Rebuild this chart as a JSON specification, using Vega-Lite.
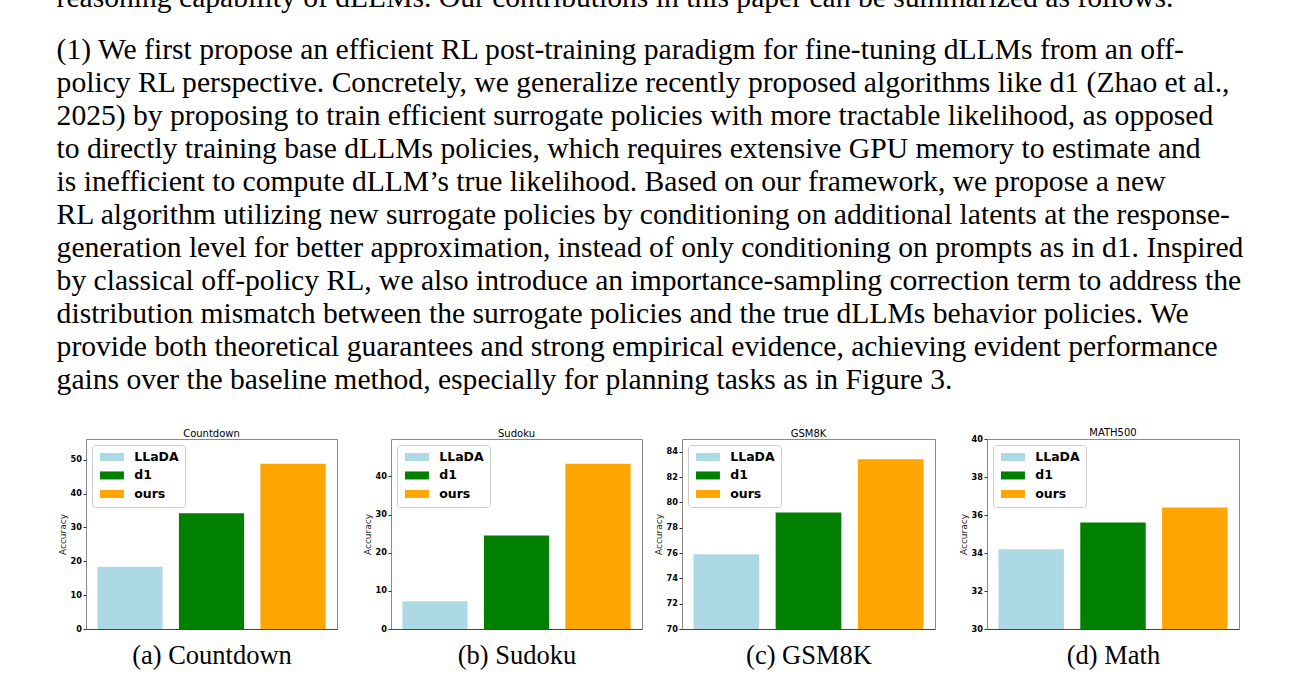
{
  "$schema": "https://vega.github.io/schema/vega-lite/v6.json",
  "background": "white",
  "padding": {"left": 56, "top": -17, "right": 5, "bottom": 5},
  "autosize": {"type": "pad"},
  "datasets": {
    "acc": [
      {"task": "Countdown", "method": "LLaDA", "acc": 18.4},
      {"task": "Countdown", "method": "d1", "acc": 34.2},
      {"task": "Countdown", "method": "ours", "acc": 48.8},
      {"task": "Sudoku", "method": "LLaDA", "acc": 7.3},
      {"task": "Sudoku", "method": "d1", "acc": 24.5},
      {"task": "Sudoku", "method": "ours", "acc": 43.3},
      {"task": "GSM8K", "method": "LLaDA", "acc": 75.9},
      {"task": "GSM8K", "method": "d1", "acc": 79.2},
      {"task": "GSM8K", "method": "ours", "acc": 83.4},
      {"task": "MATH500", "method": "LLaDA", "acc": 34.2},
      {"task": "MATH500", "method": "d1", "acc": 35.6},
      {"task": "MATH500", "method": "ours", "acc": 36.4}
    ]
  },
  "title": {
    "text": ["reasoning capability of dLLMs. Our contributions in this paper can be summarized as follows."],
    "subtitle": [
      "(1) We first propose an efficient RL post-training paradigm for fine-tuning dLLMs from an off-",
      "policy RL perspective. Concretely, we generalize recently proposed algorithms like d1 (Zhao et al.,",
      "2025) by proposing to train efficient surrogate policies with more tractable likelihood, as opposed",
      "to directly training base dLLMs policies, which requires extensive GPU memory to estimate and",
      "is inefficient to compute dLLM’s true likelihood.  Based on our framework, we propose a new",
      "RL algorithm utilizing new surrogate policies by conditioning on additional latents at the response-",
      "generation level for better approximation, instead of only conditioning on prompts as in d1. Inspired",
      "by classical off-policy RL, we also introduce an importance-sampling correction term to address the",
      "distribution mismatch between the surrogate policies and the true dLLMs behavior policies.  We",
      "provide both theoretical guarantees and strong empirical evidence, achieving evident performance",
      "gains over the baseline method, especially for planning tasks as in Figure 3."
    ],
    "anchor": "start",
    "frame": "bounds",
    "dx": -1,
    "offset": 32,
    "font": "Liberation Serif",
    "fontSize": 29.6,
    "fontWeight": "normal",
    "color": "black",
    "subtitleFont": "Liberation Serif",
    "subtitleFontSize": 29.6,
    "subtitleFontWeight": "normal",
    "subtitleColor": "black",
    "subtitleLineHeight": 33,
    "subtitlePadding": 22
  },
  "config": {
    "view": {"stroke": "#8a8a8a", "strokeWidth": 1},
    "axisY": {
      "grid": false,
      "domain": false,
      "tickSize": 3,
      "tickColor": "#333333",
      "labelFont": "DejaVu Sans",
      "labelFontWeight": "bold",
      "labelFontSize": 8.2,
      "labelColor": "black",
      "labelPadding": 1.5,
      "titleFont": "DejaVu Sans",
      "titleFontWeight": "normal",
      "titleFontSize": 9,
      "titleColor": "#222222",
      "titlePadding": 3
    },
    "axisX": {
      "labels": false,
      "ticks": false,
      "grid": false,
      "domain": true,
      "domainColor": "#444444",
      "titleFont": "Liberation Serif",
      "titleFontSize": 26.5,
      "titleFontWeight": "normal",
      "titleColor": "black",
      "titlePadding": 13
    },
    "legend": {
      "orient": "top-left",
      "offset": 5.5,
      "padding": 5.7,
      "strokeColor": "#cccccc",
      "fillColor": "white",
      "cornerRadius": 3,
      "symbolType": "M-1,-1H5V1H-1Z",
      "symbolSize": 64,
      "symbolStrokeWidth": 0,
      "labelFont": "DejaVu Sans",
      "labelFontWeight": "bold",
      "labelFontSize": 12.5,
      "labelColor": "black",
      "labelOffset": 24,
      "rowPadding": 5.5,
      "title": null
    }
  },
  "resolve": {"scale": {"color": "independent", "y": "independent", "x": "independent"}, "legend": {"color": "independent"}},
  "spacing": 10,
  "hconcat": [
    {
      "spacing": 24,
      "resolve": {"scale": {"color": "independent", "y": "independent", "x": "independent"}, "legend": {"color": "independent"}},
      "hconcat": [
        {
          "width": 251, "height": 190,
          "data": {"name": "acc"},
          "transform": [{"filter": "datum.task === 'Countdown'"}],
          "title": {"text": "Countdown", "font": "DejaVu Sans", "fontSize": 10, "fontWeight": "normal", "color": "black", "offset": 0},
          "mark": {"type": "bar", "clip": true},
          "encoding": {
            "x": {"field": "method", "type": "nominal", "sort": ["LLaDA", "d1", "ours"], "scale": {"paddingInner": 0.2, "paddingOuter": 0.14}, "axis": {"title": "(a) Countdown"}},
            "y": {"field": "acc", "type": "quantitative", "scale": {"domain": [0, 56.1], "nice": false, "zero": false}, "axis": {"title": "Accuracy", "values": [0, 10, 20, 30, 40, 50]}},
            "color": {"field": "method", "type": "nominal", "sort": ["LLaDA", "d1", "ours"], "scale": {"domain": ["LLaDA", "d1", "ours"], "range": ["#add8e6", "#008000", "#ffa500"]}}
          }
        },
        {
          "width": 251, "height": 190,
          "data": {"name": "acc"},
          "transform": [{"filter": "datum.task === 'Sudoku'"}],
          "title": {"text": "Sudoku", "font": "DejaVu Sans", "fontSize": 10, "fontWeight": "normal", "color": "black", "offset": 0},
          "mark": {"type": "bar", "clip": true},
          "encoding": {
            "x": {"field": "method", "type": "nominal", "sort": ["LLaDA", "d1", "ours"], "scale": {"paddingInner": 0.2, "paddingOuter": 0.14}, "axis": {"title": "(b) Sudoku"}},
            "y": {"field": "acc", "type": "quantitative", "scale": {"domain": [0, 49.8], "nice": false, "zero": false}, "axis": {"title": "Accuracy", "values": [0, 10, 20, 30, 40]}},
            "color": {"field": "method", "type": "nominal", "sort": ["LLaDA", "d1", "ours"], "scale": {"domain": ["LLaDA", "d1", "ours"], "range": ["#add8e6", "#008000", "#ffa500"]}}
          }
        }
      ]
    },
    {
      "spacing": 22,
      "resolve": {"scale": {"color": "independent", "y": "independent", "x": "independent"}, "legend": {"color": "independent"}},
      "hconcat": [
        {
          "width": 253, "height": 190,
          "data": {"name": "acc"},
          "transform": [{"filter": "datum.task === 'GSM8K'"}],
          "title": {"text": "GSM8K", "font": "DejaVu Sans", "fontSize": 10, "fontWeight": "normal", "color": "black", "offset": 0},
          "mark": {"type": "bar", "clip": true},
          "encoding": {
            "x": {"field": "method", "type": "nominal", "sort": ["LLaDA", "d1", "ours"], "scale": {"paddingInner": 0.2, "paddingOuter": 0.14}, "axis": {"title": "(c) GSM8K"}},
            "y": {"field": "acc", "type": "quantitative", "scale": {"domain": [70, 85], "nice": false, "zero": false}, "axis": {"title": "Accuracy", "values": [70, 72, 74, 76, 78, 80, 82, 84]}},
            "color": {"field": "method", "type": "nominal", "sort": ["LLaDA", "d1", "ours"], "scale": {"domain": ["LLaDA", "d1", "ours"], "range": ["#add8e6", "#008000", "#ffa500"]}}
          }
        },
        {
          "width": 252, "height": 190,
          "data": {"name": "acc"},
          "transform": [{"filter": "datum.task === 'MATH500'"}],
          "title": {"text": "MATH500", "font": "DejaVu Sans", "fontSize": 10, "fontWeight": "normal", "color": "black", "offset": -4},
          "mark": {"type": "bar", "clip": true},
          "encoding": {
            "x": {"field": "method", "type": "nominal", "sort": ["LLaDA", "d1", "ours"], "scale": {"paddingInner": 0.2, "paddingOuter": 0.14}, "axis": {"title": "(d) Math"}},
            "y": {"field": "acc", "type": "quantitative", "scale": {"domain": [30, 40], "nice": false, "zero": false}, "axis": {"title": "Accuracy", "values": [30, 32, 34, 36, 38, 40]}},
            "color": {"field": "method", "type": "nominal", "sort": ["LLaDA", "d1", "ours"], "scale": {"domain": ["LLaDA", "d1", "ours"], "range": ["#add8e6", "#008000", "#ffa500"]}}
          }
        }
      ]
    }
  ]
}
